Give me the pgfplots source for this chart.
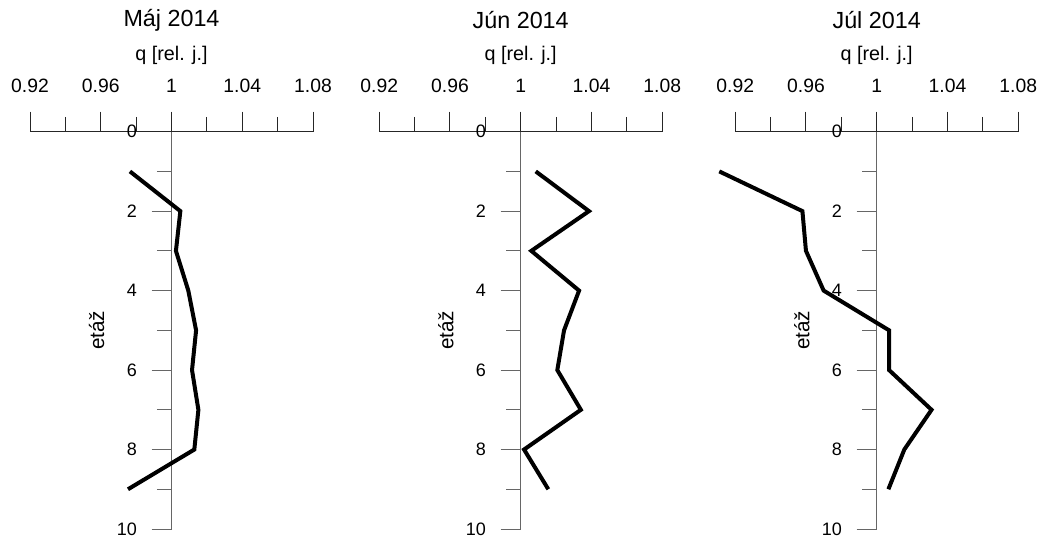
\documentclass[border=0pt]{standalone}
\usepackage{fontspec}
\setmainfont{Liberation Sans}
\usepackage{pgfplots}
\usepackage{pgfplotstable}
\pgfplotsset{compat=1.18}

\pgfplotstableread{
e q
1 0.9765
2 1.005
3 1.0025
4 1.0095
5 1.0139
6 1.0116
7 1.0152
8 1.0129
9 0.9754
}\maj
\pgfplotstableread{
e q
1 1.0085
2 1.0386
3 1.006
4 1.033
5 1.0245
6 1.0207
7 1.034
8 1.0019
9 1.0156
}\jun
\pgfplotstableread{
e q
1 0.911
2 0.958
3 0.960
4 0.970
5 1.007
6 1.007
7 1.031
8 1.0156
9 1.0066
}\jul

\pgfplotsset{
  every axis title shift=0pt,
  panel/.style={
    scale only axis,
    width=212.25pt, height=298pt,
    anchor=south west,
    clip=false,
    y dir=reverse,
    xmin=-0.08, xmax=0.08, ymin=0, ymax=10,
    axis x line=top,
    axis y line=middle,
    hide obscured y ticks=false,
    hide obscured x ticks=false,
    scaled x ticks=false,
    x axis line style={-, black!85, line width=0.75pt},
    y axis line style={-, black!60, line width=0.75pt},
    xtick={-0.08,-0.04,0,0.04,0.08},
    xticklabels={0.92,0.96,1,1.04,1.08},
    minor xtick={-0.06,-0.02,0.02,0.06},
    ytick={0,2,4,6,8,10},
    minor ytick={1,3,5,7,9},
    major tick length=15pt,
    minor tick length=11pt,
    xtick align=outside,
    ytick align=outside,
    x tick style={black!85, line width=0.75pt},
    y tick style={black!60, line width=0.75pt},
    /pgf/number format/assume math mode=true,
    xticklabel style={font=\fontsize{14.5}{16}\selectfont, anchor=center, yshift=19.5pt},
    yticklabel style={font=\fontsize{13.5}{15}\selectfont, anchor=east, xshift=-7.5pt},
    xlabel={q [rel. j.]},
    xlabel style={font=\fontsize{14.8}{16}\selectfont, at={(axis description cs:0.5,1)}, anchor=center, yshift=57.5pt},
    ylabel={etáž},
    ylabel style={font=\fontsize{15.5}{17}\selectfont, at={(axis description cs:0.2352,0.5)}, anchor=center, rotate=90},
    title style={font=\fontsize{17.5}{19}\selectfont, at={(axis description cs:0.5,1)}, anchor=center, yshift=83.8pt},
  },
  dataline/.style={black, line width=3pt, line join=miter}
}

\begin{document}
\begin{tikzpicture}
\useasboundingbox (0,0) rectangle (783.75pt,406.5pt);
\begin{axis}[panel, at={(22.5pt,9.75pt)}, title={Máj 2014}]
\addplot[dataline] table[x expr=\thisrow{q}-1, y=e] {\maj};
\end{axis}
\begin{axis}[panel, at={(284.4pt,9.75pt)}, title={Jún 2014}]
\addplot[dataline] table[x expr=\thisrow{q}-1, y=e] {\jun};
\end{axis}
\begin{axis}[panel, at={(551.4pt,9.75pt)}, title={Júl 2014}]
\addplot[dataline] table[x expr=\thisrow{q}-1, y=e] {\jul};
\end{axis}
\end{tikzpicture}
\end{document}
